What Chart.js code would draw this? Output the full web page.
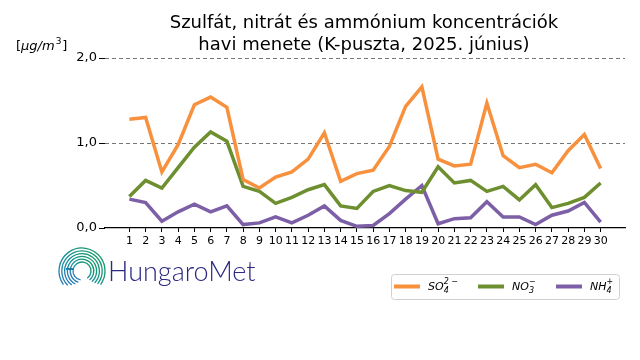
<!DOCTYPE html>
<html>
<head>
<meta charset="utf-8">
<script src="https://cdn.jsdelivr.net/npm/chart.js@4"></script>
<style>
  body { margin: 0; background: #fff; }
</style>
</head>
<body>
<canvas id="chart" width="640" height="360"></canvas>
<script>
// days of June 2025
const days = [1,2,3,4,5,6,7,8,9,10,11,12,13,14,15,16,17,18,19,20,21,22,23,24,25,26,27,28,29,30];
// concentrations, ug/m3
const so4 = [1.28,1.30,0.66,0.98,1.45,1.54,1.42,0.57,0.47,0.60,0.66,0.81,1.12,0.55,0.64,0.68,0.96,1.43,1.66,0.81,0.73,0.75,1.47,0.85,0.71,0.75,0.65,0.91,1.10,0.70];
const no3 = [0.37,0.56,0.47,0.71,0.95,1.13,1.02,0.49,0.43,0.29,0.36,0.45,0.51,0.26,0.23,0.43,0.50,0.44,0.42,0.72,0.53,0.56,0.43,0.49,0.33,0.51,0.24,0.29,0.36,0.53];
const nh4 = [0.34,0.30,0.08,0.19,0.28,0.19,0.26,0.04,0.06,0.13,0.06,0.15,0.26,0.09,0.02,0.03,0.17,0.34,0.50,0.05,0.11,0.12,0.31,0.13,0.13,0.04,0.15,0.20,0.30,0.07];
const yTicks = [0, 1, 2];

const colors = { so4: '#f7913d', no3: '#6d8f30', nh4: '#7c5fa6' };

function pts(arr) {
    return arr.map((v, i) => ({ x: days[i], y: v }));
}

// title, unit label, legend box and logo
const extras = {
    id: 'extras',
    afterDraw(chart) {
        const c = chart.ctx;
        c.save();
        c.fillStyle = '#000';
        c.textAlign = 'center';
        c.textBaseline = 'middle';
        c.font = '18px "DejaVu Sans"';
        c.fillText('Szulfát, nitrát és ammónium koncentrációk', 364, 23);
        c.fillText('havi menete (K-puszta, 2025. június)', 364, 45);

        // unit label
        c.textAlign = 'left';
        c.font = '13px "DejaVu Sans"';
        let x = 16;
        c.fillText('[', x, 47); x += c.measureText('[').width;
        c.font = 'italic 13px "DejaVu Sans"';
        c.fillText('μg/m', x, 47); x += c.measureText('μg/m').width;
        c.font = '9px "DejaVu Sans"';
        c.fillText('3', x + 1, 42); x += c.measureText('3').width + 2;
        c.font = '13px "DejaVu Sans"';
        c.fillText(']', x, 47);

        // legend
        c.beginPath();
        c.roundRect(391.5, 274.5, 228, 25, 3);
        c.fillStyle = '#fff';
        c.fill();
        c.strokeStyle = '#d0d0d0';
        c.lineWidth = 1;
        c.stroke();
        const items = [
            { col: colors.so4, main: 'SO', sub: '4', sup: '2 −', x: 394 },
            { col: colors.no3, main: 'NO', sub: '3', sup: '−', x: 478 },
            { col: colors.nh4, main: 'NH', sub: '4', sup: '+', x: 556 }
        ];
        items.forEach(it => {
            c.strokeStyle = it.col;
            c.lineWidth = 4;
            c.beginPath();
            c.moveTo(it.x, 286.5);
            c.lineTo(it.x + 26, 286.5);
            c.stroke();
            c.fillStyle = '#000';
            c.font = 'italic 11px "DejaVu Sans"';
            let tx = it.x + 34;
            c.fillText(it.main, tx, 287);
            tx += c.measureText(it.main).width;
            c.font = 'italic 8px "DejaVu Sans"';
            c.fillText(it.sub, tx, 291);
            c.fillText(it.sup, tx, 282);
        });

        // logo spiral
        const cx = 82, cy = 271;
        for (let i = 0; i < 6; i++) {
            const r = 9 + i * 2.8;
            const g = c.createLinearGradient(cx + r, cy - r, cx - r, cy + r);
            g.addColorStop(0, '#0f9a5a');
            g.addColorStop(0.6, '#1a8fa0');
            g.addColorStop(1, '#2a6fc0');
            c.strokeStyle = g;
            c.lineWidth = 1.3;
            c.beginPath();
            c.arc(cx, cy, r, Math.PI * (0.55 + i * 0.05), Math.PI * (2.3 - i * 0.02));
            c.stroke();
        }
        c.fillStyle = '#1e7fa8';
        c.fillRect(66, 268, 8, 2);

        c.fillStyle = '#2b2a80';
        c.font = '300 27px Lato';
        c.textBaseline = 'alphabetic';
        c.fillText('HungaroMet', 108, 281);
        c.restore();
    }
};

new Chart(document.getElementById('chart'), {
    type: 'line',
    data: {
        datasets: [
            { label: 'SO4', data: pts(so4), borderColor: colors.so4 },
            { label: 'NO3', data: pts(no3), borderColor: colors.no3 },
            { label: 'NH4', data: pts(nh4), borderColor: colors.nh4 }
        ]
    },
    options: {
        responsive: false,
        animation: false,
        layout: { padding: { top: 58, right: 15, left: 0, bottom: 0 } },
        elements: {
            line: { borderWidth: 3.5, tension: 0, borderJoinStyle: 'miter' },
            point: { radius: 0 }
        },
        plugins: {
            legend: { display: false },
            title: { display: false },
            tooltip: { enabled: false }
        },
        scales: {
            x: {
                type: 'linear',
                min: -0.5,
                max: 31.5,
                afterFit: s => { s.height = 132; },
                afterBuildTicks: s => { s.ticks = days.map(v => ({ value: v })); },
                grid: { drawOnChartArea: false, drawTicks: true, tickLength: 4, tickColor: '#000' },
                border: { display: true, color: '#000', width: 1.2 },
                ticks: {
                    autoSkip: false, maxRotation: 0, padding: 3,
                    color: '#000', font: { family: 'DejaVu Sans', size: 11 },
                    callback: v => String(v)
                }
            },
            y: {
                min: 0,
                max: 2,
                afterFit: s => { s.width = 105; },
                afterBuildTicks: s => { s.ticks = yTicks.map(v => ({ value: v })); },
                grid: {
                    color: c => c.tick && c.tick.value === 0 ? 'rgba(0,0,0,0)' : '#777',
                    lineWidth: 1, tickLength: 6, tickColor: '#000'
                },
                border: { display: false, dash: [4, 3] },
                ticks: {
                    padding: 2, color: '#000', font: { family: 'DejaVu Sans', size: 13 },
                    callback: v => v.toFixed(1).replace('.', ',')
                }
            }
        }
    },
    plugins: [extras]
});
</script>
</body>
</html>
